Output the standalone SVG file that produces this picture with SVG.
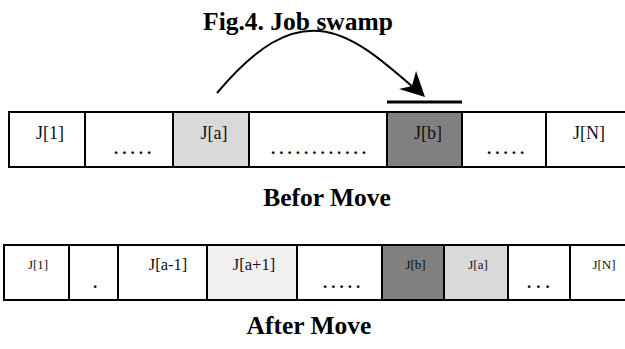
<svg xmlns="http://www.w3.org/2000/svg" width="625" height="349" viewBox="0 0 625 349">
<defs>
<style>
.cell{stroke:#000;stroke-width:2}
.w{fill:#fff}
.lg{fill:#d9d9d9}
.xg{fill:#f0f0f0}
.dg{fill:#808080}
.lb{font-family:"Liberation Serif","Times New Roman",serif;fill:#111;text-anchor:middle}
.big{font-size:18px}
.sm{font-size:13px}
.mid{font-size:16.5px}
.dots{font-family:"Liberation Serif","Times New Roman",serif;font-weight:bold;font-size:17px;fill:#000;letter-spacing:4px}
.ttl{font-family:"Liberation Serif","Times New Roman",serif;font-weight:bold;font-size:25.5px;fill:#000;text-anchor:middle}
</style>
</defs>
<rect width="625" height="349" fill="#fff"/>
<text class="ttl" x="298" y="30">Fig.4. Job swamp</text>
<g id="connectors">
<path d="M217,93 C258,44 290,28 320,31 C352,34 382,60 414,88" fill="none" stroke="#000" stroke-width="2"/>
<polygon points="425,97 399,89 412,86 416,71" fill="#000"/>
<line x1="387" y1="102" x2="462" y2="102" stroke="#000" stroke-width="3"/>
</g>
<g id="before">
<g id="b1"><rect class="cell w" x="9" y="112" width="76" height="55"/><text class="lb big" x="50" y="139">J[1]</text></g>
<g id="b2"><rect class="cell w" x="85" y="112" width="88" height="55"/><text class="dots" x="114" y="154">.....</text></g>
<g id="b3"><rect class="cell lg" x="173" y="112" width="76" height="55"/><text class="lb big" x="214" y="139">J[a]</text></g>
<g id="b4"><rect class="cell w" x="249" y="112" width="138" height="55"/><text class="dots" x="271" y="154">............</text></g>
<g id="b5"><rect class="cell dg" x="387" y="112" width="75" height="55"/><text class="lb big" x="428" y="139">J[b]</text></g>
<g id="b6"><rect class="cell w" x="462" y="112" width="84" height="55"/><text class="dots" x="487" y="154">.....</text></g>
<g id="b7"><rect class="cell w" x="546" y="112" width="82" height="55"/><text class="lb big" x="589" y="139">J[N]</text></g>
</g>
<text class="ttl" x="327" y="206">Befor Move</text>
<g id="after">
<g id="a1"><rect class="cell w" x="4" y="245" width="65" height="55"/><text class="lb sm" x="38" y="269">J[1]</text></g>
<g id="a2"><rect class="cell w" x="69" y="245" width="49" height="55"/><text class="dots" x="93" y="288">.</text></g>
<g id="a3"><rect class="cell w" x="118" y="245" width="89" height="55"/><text class="lb mid" x="168" y="270">J[a-1]</text></g>
<g id="a4"><rect class="cell xg" x="207" y="245" width="90" height="55"/><text class="lb mid" x="254" y="270">J[a+1]</text></g>
<g id="a5"><rect class="cell w" x="297" y="245" width="85" height="55"/><text class="dots" x="323" y="288">.....</text></g>
<g id="a6"><rect class="cell dg" x="382" y="245" width="62" height="55"/><text class="lb sm" x="415.5" y="269">J[b]</text></g>
<g id="a7"><rect class="cell lg" x="444" y="245" width="64" height="55"/><text class="lb sm" x="478" y="269">J[a]</text></g>
<g id="a8"><rect class="cell w" x="508" y="245" width="62" height="55"/><text class="dots" x="527" y="288" style="letter-spacing:5px">...</text></g>
<g id="a9"><rect class="cell w" x="570" y="245" width="58" height="55"/><text class="lb sm" x="604" y="269">J[N]</text></g>
</g>
<text class="ttl" x="309" y="334">After Move</text>
</svg>
